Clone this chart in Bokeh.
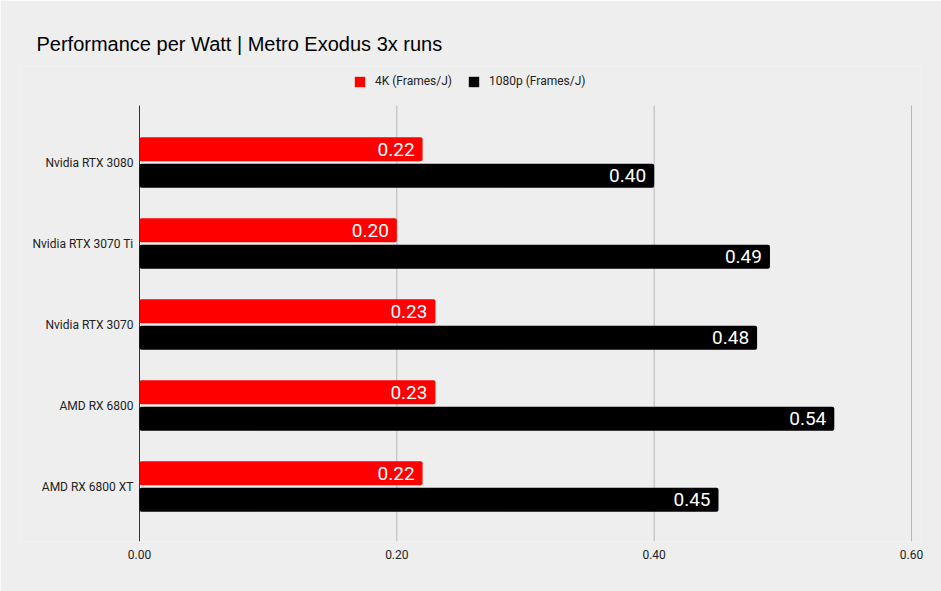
from bokeh.plotting import figure
from bokeh.models import (Range1d, Legend, LegendItem,
                          NumeralTickFormatter, FixedTicker, ColumnDataSource)
from bokeh.core.properties import value
from bokeh.embed import file_html
from bokeh.resources import INLINE

gpus = ["Nvidia RTX 3080", "Nvidia RTX 3070 Ti", "Nvidia RTX 3070",
        "AMD RX 6800", "AMD RX 6800 XT"]
perf_4k = [0.22, 0.20, 0.23, 0.23, 0.22]
perf_1080p = [0.40, 0.49, 0.48, 0.54, 0.45]
series_names = ["4K (Frames/J)", "1080p (Frames/J)"]
x_ticks = [0.0, 0.2, 0.4, 0.6]
title_text = "Performance per Watt | Metro Exodus 3x runs"

BG = "#eeeeee"
RED = "#ff0000"
BLACK = "#000000"
GRID = "#b7b7b7"

n = len(gpus)
ypos = [n - 1 - i for i in range(n)]      # first category at the top
DODGE = 0.163
BAR_H = 0.296

src = ColumnDataSource(dict(
    gpu=gpus,
    y=ypos,
    y4k=[y + DODGE for y in ypos],
    y1080=[y - DODGE for y in ypos],
    zero=[0.0] * n,
    v4k=perf_4k,
    v1080=perf_1080p,
    l4k=["%.2f" % v for v in perf_4k],
    l1080=["%.2f" % v for v in perf_1080p],
))

# layout: frame spans x 20..921 px (0 at 139 px, 0.6 at 911 px), y 66..541 px
px_x = 772 / 0.6
px_y = 81.0
FRAME_TOP, PLOT_TOP, FIRST_CENTER, FRAME_BOTTOM = 66, 105, 162, 541
y_start = -(FRAME_BOTTOM - (FIRST_CENTER + (n - 1) * px_y)) / px_y
y_end = (n - 1) + (FIRST_CENTER - FRAME_TOP) / px_y
y_plot_top = (n - 1) + (FIRST_CENTER - PLOT_TOP) / px_y

p = figure(width=941, height=591, output_backend="svg", toolbar_location=None,
           y_range=Range1d(y_start, y_end),
           x_range=Range1d(-119 / px_x, 0.6 + 10 / px_x),
           min_border_left=20, min_border_right=20,
           min_border_top=FRAME_TOP, min_border_bottom=591 - FRAME_BOTTOM)
p.background_fill_color = BG
p.border_fill_color = BG
p.outline_line_color = None

# grid lines and zero line, limited to the plotting area
p.segment(x0=x_ticks[1:], x1=x_ticks[1:], y0=y_start, y1=y_plot_top,
          line_color=GRID, line_width=1)
p.segment(x0=[0], x1=[0], y0=y_start, y1=y_plot_top,
          line_color="#333333", line_width=1)

r1 = p.hbar(y="y4k", right="v4k", left=0, height=BAR_H, source=src,
            fill_color=RED, line_color=None, border_radius=2)
r2 = p.hbar(y="y1080", right="v1080", left=0, height=BAR_H, source=src,
            fill_color=BLACK, line_color=None, border_radius=2)

p.text(x="v4k", y="y4k", text="l4k", source=src,
       x_offset=-8, text_align="right", text_baseline="middle",
       text_color="white", text_font=value("Roboto"), text_font_size="19px")
p.text(x="v1080", y="y1080", text="l1080", source=src,
       x_offset=-8, text_align="right", text_baseline="middle",
       text_color="white", text_font=value("Roboto"), text_font_size="19px")

# category labels (left of the zero line)
p.text(x="zero", y="y", text="gpu", source=src, x_offset=-6,
       text_align="right", text_baseline="middle", text_color="#222222",
       text_font=value("Roboto"), text_font_size="12px")

# axes
p.yaxis.visible = False
p.xaxis.ticker = FixedTicker(ticks=x_ticks)
p.xaxis.formatter = NumeralTickFormatter(format="0.00")
p.xaxis.axis_line_color = None
p.xaxis.major_tick_line_color = None
p.xaxis.minor_tick_line_color = None
p.xaxis.major_tick_out = 0
p.xaxis.major_tick_in = 0
p.xaxis.major_label_standoff = 8
p.xaxis.major_label_text_font = "Roboto"
p.xaxis.major_label_text_font_size = "12px"
p.xaxis.major_label_text_color = "#222222"
p.xgrid.grid_line_color = None
p.ygrid.grid_line_color = None

legend = Legend(items=[LegendItem(label=series_names[0], renderers=[r1]),
                       LegendItem(label=series_names[1], renderers=[r2])],
                orientation="horizontal", location=(333, 453),
                background_fill_alpha=0, border_line_color=None,
                glyph_width=13, glyph_height=13, label_standoff=9, spacing=15,
                padding=0, margin=0,
                label_text_font="Roboto", label_text_font_size="12px",
                label_text_color="#222222")
p.add_layout(legend)

p.title.text = title_text
p.title.align = "left"
p.title.offset = 16
p.title.standoff = 23
p.title.text_font = "Liberation Sans"
p.title.text_font_size = "20px"
p.title.text_font_style = "normal"
p.title.text_color = "#000000"

open("out.html", "w").write(file_html(p, INLINE))
